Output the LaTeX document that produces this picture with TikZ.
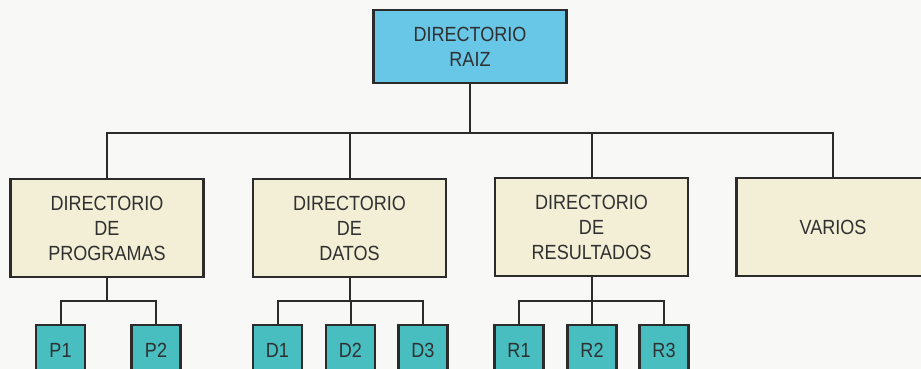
\documentclass[tikz,border=0pt]{standalone}
\usepackage{fontspec}
\setmainfont[FakeStretch=0.88]{Liberation Sans}
\definecolor{bgc}{HTML}{F8F8F6}
\definecolor{rootc}{HTML}{68C6E6}
\definecolor{creamc}{HTML}{F3EED6}
\definecolor{leafc}{HTML}{48BEC0}
\definecolor{linec}{HTML}{2B2B2B}
\definecolor{txtc}{HTML}{303030}
\tikzset{
  box/.style={draw=linec, line width=2.6pt, inner sep=0pt, align=center,
    text=txtc, font=\fontsize{20.5}{25}\selectfont},
  rootbox/.style={box, fill=rootc, minimum width=193pt, minimum height=73pt},
  dirbox/.style={box, fill=creamc, minimum width=193pt, minimum height=98pt},
  leafbox/.style={box, fill=leafc, minimum width=49pt, minimum height=50pt},
  conn/.style={draw=linec, line width=2pt}
}
\begin{document}
\begin{tikzpicture}[x=1pt,y=-1pt]
\fill[bgc] (0,0) rectangle (921,369);
\useasboundingbox (0,0) rectangle (921,369);
\clip (0,0) rectangle (921,369);
\coordinate (bus) at (0,133);
\coordinate (sbus) at (0,301);
\node[rootbox] (root) at (470,46.5) {DIRECTORIO\\RAIZ};
\node[dirbox] (prog) at (107,228) {DIRECTORIO\\DE\\PROGRAMAS};
\node[dirbox] (datos) at (349.5,228) {DIRECTORIO\\DE\\DATOS};
\node[dirbox] (res) at (591.5,227) {DIRECTORIO\\DE\\RESULTADOS};
\node[dirbox] (var) at (833,227) {VARIOS};
\node[leafbox] (p1) at (60.5,350) {P1};
\node[leafbox] (p2) at (156,350) {P2};
\node[leafbox] (d1) at (277.5,350) {D1};
\node[leafbox] (d2) at (350.5,350) {D2};
\node[leafbox] (d3) at (423,350) {D3};
\node[leafbox] (r1) at (519,350) {R1};
\node[leafbox] (r2) at (592,350) {R2};
\node[leafbox] (r3) at (664,350) {R3};
% top level
\draw[conn] (root.south) -- (root.south |- bus);
\draw[conn] (prog.north) |- (var.north |- bus) -- (var.north);
\draw[conn] (datos.north) -- (datos.north |- bus);
\draw[conn] (res.north) -- (res.north |- bus);
% programas
\draw[conn] (prog.south) -- (prog.south |- sbus);
\draw[conn] (p1.north) |- (p2.north |- sbus) -- (p2.north);
% datos
\draw[conn] (datos.south) -- (datos.south |- sbus);
\draw[conn] (d1.north) |- (d3.north |- sbus) -- (d3.north);
\draw[conn] (d2.north) -- (d2.north |- sbus);
% resultados
\draw[conn] (res.south) -- (res.south |- sbus);
\draw[conn] (r1.north) |- (r3.north |- sbus) -- (r3.north);
\draw[conn] (r2.north) -- (r2.north |- sbus);
\end{tikzpicture}
\end{document}
